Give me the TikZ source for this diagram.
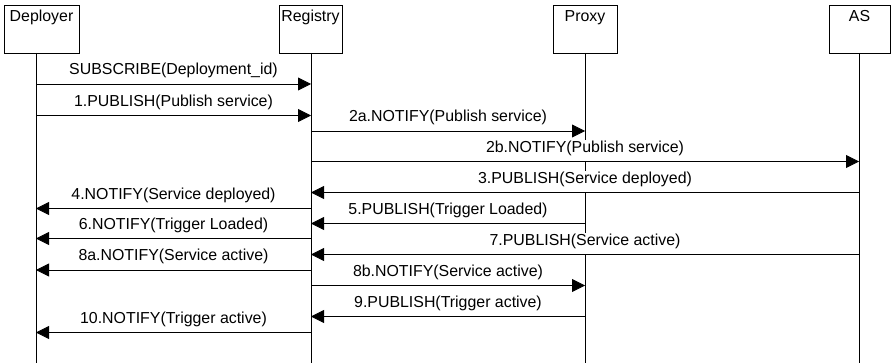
\documentclass[tikz,border=0pt]{standalone}
\usepackage{fontspec}
\setmainfont{Liberation Sans}
\usetikzlibrary{arrows.meta}
\begin{document}
\begin{tikzpicture}[x=1pt,y=-1pt,
  every node/.style={font=\fontsize{15.9pt}{19pt}\selectfont},
  actbox/.style={draw, line width=0.8pt, anchor=north west, inner sep=0pt},
  actname/.style={anchor=base, inner sep=0pt},
  life/.style={line width=0.8pt},
  msg/.style={line width=0.8pt, -{Triangle[length=13pt,width=13pt]}},
  lbl/.style={anchor=base, yshift=9pt, fill=white, inner sep=0pt, text height=12pt, text depth=8.5pt}]
\useasboundingbox (0,0) rectangle (891,363);
% actor boxes
\node[actbox, minimum width=75pt, minimum height=48pt] (depbox) at (4,5) {};
\node[actbox, minimum width=63pt, minimum height=48pt] (regbox) at (279,5) {};
\node[actbox, minimum width=64pt, minimum height=48pt] (prxbox) at (553,5) {};
\node[actbox, minimum width=61pt, minimum height=48pt] (asbox) at (829,5) {};
\node[actname] (deplbl) at (41.5,22) {Deployer};
\node[actname] (reglbl) at (310.5,22) {Registry};
\node[actname] (prxlbl) at (585,22) {Proxy};
\node[actname] (aslbl) at (859.5,22) {AS};
% lifelines
\coordinate (dtop) at (36,53);  \coordinate (dl) at (36,363);
\coordinate (rtop) at (311,53); \coordinate (rl) at (311,363);
\coordinate (ptop) at (585,53); \coordinate (pl) at (585,363);
\coordinate (atop) at (859,53); \coordinate (al) at (859,363);
\draw[life] (dtop) -- (dl);
\draw[life] (rtop) -- (rl);
\draw[life] (ptop) -- (pl);
\draw[life] (atop) -- (al);
% message rows
\coordinate (m0) at (0,84);
\coordinate (m1) at (0,115.5);
\coordinate (m2a) at (0,131);
\coordinate (m2b) at (0,161.5);
\coordinate (m3) at (0,192.5);
\coordinate (m4) at (0,208.5);
\coordinate (m5) at (0,223.5);
\coordinate (m6) at (0,238.5);
\coordinate (m7) at (0,254.5);
\coordinate (m8a) at (0,270);
\coordinate (m8b) at (0,285.5);
\coordinate (m9) at (0,316.5);
\coordinate (m10) at (0,332.5);
% messages
\path (dl |- m0) -- (rl |- m0) node[midway, lbl] (t0) {SUBSCRIBE(Deployment\_id)};
\draw[msg] (dl |- m0) -- (rl |- m0);
\path (dl |- m1) -- (rl |- m1) node[midway, lbl] (t1) {1.PUBLISH(Publish service)};
\draw[msg] (dl |- m1) -- (rl |- m1);
\path (rl |- m2a) -- (pl |- m2a) node[midway, lbl] (t2a) {2a.NOTIFY(Publish service)};
\draw[msg] (rl |- m2a) -- (pl |- m2a);
\path (rl |- m2b) -- (al |- m2b) node[midway, lbl] (t2b) {2b.NOTIFY(Publish service)};
\draw[msg] (rl |- m2b) -- (al |- m2b);
\path (al |- m3) -- (rl |- m3) node[midway, lbl] (t3) {3.PUBLISH(Service deployed)};
\draw[msg] (al |- m3) -- (rl |- m3);
\path (rl |- m4) -- (dl |- m4) node[midway, lbl] (t4) {4.NOTIFY(Service deployed)};
\draw[msg] (rl |- m4) -- (dl |- m4);
\path (pl |- m5) -- (rl |- m5) node[midway, lbl] (t5) {5.PUBLISH(Trigger Loaded)};
\draw[msg] (pl |- m5) -- (rl |- m5);
\path (rl |- m6) -- (dl |- m6) node[midway, lbl] (t6) {6.NOTIFY(Trigger Loaded)};
\draw[msg] (rl |- m6) -- (dl |- m6);
\path (al |- m7) -- (rl |- m7) node[midway, lbl] (t7) {7.PUBLISH(Service active)};
\draw[msg] (al |- m7) -- (rl |- m7);
\path (rl |- m8a) -- (dl |- m8a) node[midway, lbl] (t8a) {8a.NOTIFY(Service active)};
\draw[msg] (rl |- m8a) -- (dl |- m8a);
\path (rl |- m8b) -- (pl |- m8b) node[midway, lbl] (t8b) {8b.NOTIFY(Service active)};
\draw[msg] (rl |- m8b) -- (pl |- m8b);
\path (pl |- m9) -- (rl |- m9) node[midway, lbl] (t9) {9.PUBLISH(Trigger active)};
\draw[msg] (pl |- m9) -- (rl |- m9);
\path (rl |- m10) -- (dl |- m10) node[midway, lbl] (t10) {10.NOTIFY(Trigger active)};
\draw[msg] (rl |- m10) -- (dl |- m10);
\end{tikzpicture}
\end{document}
